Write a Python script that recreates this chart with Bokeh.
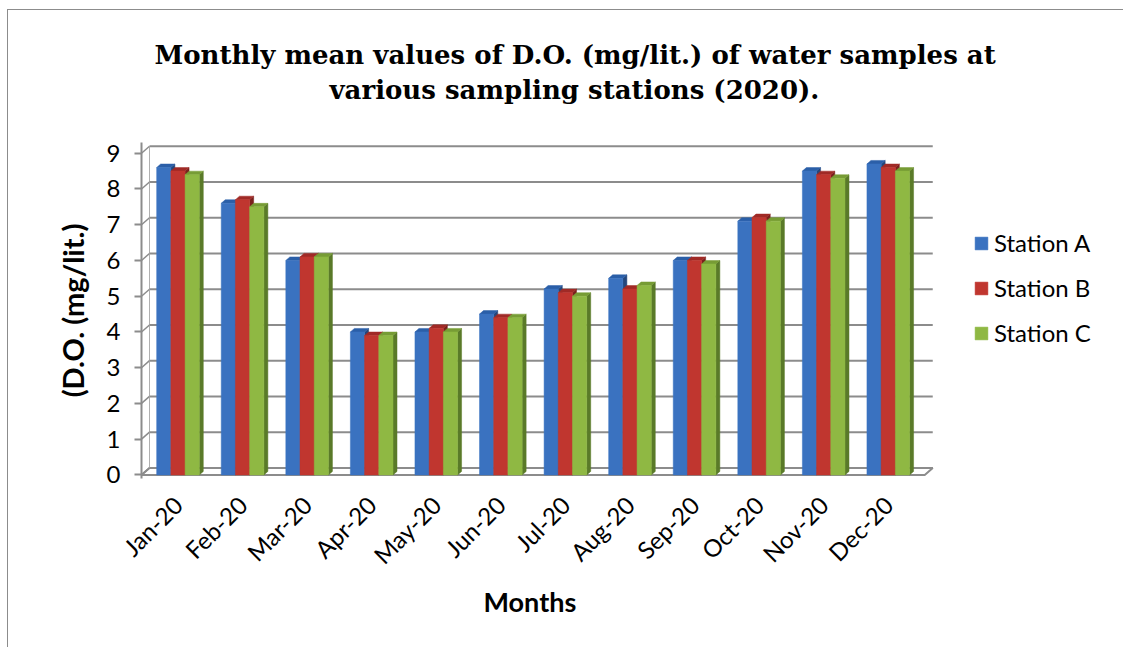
import numpy as np
from bokeh.plotting import figure
from bokeh.models import Range1d, FixedTicker, Title, Legend, LegendItem, ColumnDataSource
from bokeh.embed import file_html
from bokeh.resources import INLINE

# ---------------- data ----------------
months = ["Jan-20", "Feb-20", "Mar-20", "Apr-20", "May-20", "Jun-20",
          "Jul-20", "Aug-20", "Sep-20", "Oct-20", "Nov-20", "Dec-20"]
station_a = [8.6, 7.6, 6.0, 4.0, 4.0, 4.5, 5.2, 5.5, 6.0, 7.1, 8.5, 8.7]
station_b = [8.5, 7.7, 6.1, 3.9, 4.1, 4.4, 5.1, 5.2, 6.0, 7.2, 8.4, 8.6]
station_c = [8.4, 7.5, 6.1, 3.9, 4.0, 4.4, 5.0, 5.3, 5.9, 7.1, 8.3, 8.5]
series_names = ["Station A", "Station B", "Station C"]
y_ticks = [0, 1, 2, 3, 4, 5, 6, 7, 8, 9]

title_lines = ["Monthly mean values of D.O. (mg/lit.) of water samples at",
               "various sampling stations (2020)."]
x_title = "Months"
y_title = "(D.O. (mg/lit.)"

# ---------------- styling ----------------
front_colors = ["#3a72c0", "#c0362f", "#8fb843"]
top_colors = ["#2b5fa8", "#a02a26", "#779c35"]
side_colors = ["#24477c", "#7a201d", "#5a7a29"]
offsets = [-0.22, 0.0, 0.22]
BAR_W = 0.22
DXB, DYB = 0.062, 0.098      # bar depth (oblique projection)
DXW, DYW = 0.124, 0.196      # wall depth
X_LEFT, X_RIGHT = -0.065, 12.065
GRID = "#8c8c8c"
SANS = "Lato"

p = figure(width=1116, height=638,
           x_range=Range1d(-0.065, 14.787), y_range=Range1d(-0.1, 9.3),
           output_backend="svg", toolbar_location=None,
           min_border_left=133, min_border_right=24,
           min_border_top=132, min_border_bottom=170)
p.styles = {"margin-left": "7px", "margin-top": "9px",
            "border-top": "1px solid #8c8c8c", "border-left": "1px solid #8c8c8c"}
p.outline_line_color = None
p.xgrid.visible = False
p.ygrid.visible = False

# floor
p.patch([X_LEFT, X_RIGHT, X_RIGHT + DXW, X_LEFT + DXW], [0, 0, DYW, DYW],
        fill_color="white", line_color=GRID, line_width=2)
# left wall diagonals and back edge
yt = np.array(y_ticks, dtype=float)
p.segment(x0=[X_LEFT] * len(yt), y0=yt, x1=[X_LEFT + DXW] * len(yt), y1=yt + DYW,
          line_color=GRID, line_width=1.5)
p.segment(x0=[X_LEFT + DXW], y0=[DYW], x1=[X_LEFT + DXW], y1=[yt[-1] + DYW],
          line_color="#b0b0b0", line_width=1)
# back-wall gridlines
p.segment(x0=[X_LEFT + DXW] * len(yt), y0=yt + DYW, x1=[X_RIGHT + DXW] * len(yt), y1=yt + DYW,
          line_color=GRID, line_width=2)

pos = np.arange(len(months)) + 0.5
renderers = []
for k, vals in enumerate([station_a, station_b, station_c]):
    v = np.array(vals, dtype=float)
    xc = pos + offsets[k]
    xl = xc - BAR_W / 2
    xr = xc + BAR_W / 2
    side_xs = [[a, a + DXB, a + DXB, a] for a in xr]
    side_ys = [[0, DYB, h + DYB, h] for h in v]
    p.patches(side_xs, side_ys, fill_color=side_colors[k], line_color=side_colors[k], line_width=0.5)
    top_xs = [[a, a + DXB, b + DXB, b] for a, b in zip(xl, xr)]
    top_ys = [[h, h + DYB, h + DYB, h] for h in v]
    p.patches(top_xs, top_ys, fill_color=top_colors[k], line_color=top_colors[k], line_width=0.5)
    src = ColumnDataSource(dict(x=xc, top=v))
    r = p.vbar(x="x", top="top", bottom=0, width=BAR_W, source=src,
               fill_color=front_colors[k], line_color=front_colors[k], line_width=0.5)
    renderers.append(r)

# axes
p.xaxis.ticker = FixedTicker(ticks=list(pos))
p.xaxis.major_label_overrides = {float(x): m for x, m in zip(pos, months)}
p.xaxis.major_label_orientation = np.pi / 4
p.xaxis.axis_line_color = None
p.xaxis.major_tick_line_color = None
p.xaxis.minor_tick_line_color = None
p.xaxis.major_label_standoff = 16
p.xaxis.major_label_text_font = SANS
p.xaxis.major_label_text_font_size = "24px"
p.xaxis.major_label_text_color = "black"

p.yaxis.ticker = FixedTicker(ticks=y_ticks)
p.yaxis.axis_line_color = GRID
p.yaxis.axis_line_width = 2
p.yaxis.major_tick_line_color = GRID
p.yaxis.major_tick_line_width = 2
p.yaxis.major_tick_out = 7
p.yaxis.major_tick_in = 0
p.yaxis.minor_tick_line_color = None
p.yaxis.major_label_standoff = 14
p.yaxis.major_label_text_font = SANS
p.yaxis.major_label_text_font_size = "24px"
p.yaxis.major_label_text_color = "black"
p.yaxis.axis_label = y_title
p.yaxis.axis_label_text_font = SANS
p.yaxis.axis_label_text_font_style = "bold"
p.yaxis.axis_label_text_font_size = "29px"
p.yaxis.axis_label_text_color = "black"
p.yaxis.axis_label_standoff = 14

# x-axis title placed under the tick labels, centred under the bars
p.add_layout(Title(text=x_title, align="left", offset=342, standoff=0,
                   text_font=SANS, text_font_style="bold",
                   text_font_size="27px", text_color="black"), "below")

# chart title: spacer, then two lines (added nearest-first)
p.add_layout(Title(text=" ", align="left", standoff=22, text_font_size="10px"), "above")
for text, off, so in [(title_lines[1], 188, 6), (title_lines[0], 13, 0)]:
    p.add_layout(Title(text=text, align="left", offset=off, standoff=so,
                       text_font="DejaVu Serif", text_font_style="bold",
                       text_font_size="26px", text_color="black"), "above")

legend = Legend(items=[LegendItem(label=n, renderers=[r]) for n, r in zip(series_names, renderers)],
                location=(832, 131), orientation="vertical",
                glyph_width=16, glyph_height=16, label_height=24, label_standoff=5,
                spacing=16, padding=0, margin=0, border_line_color=None,
                background_fill_alpha=0, label_text_font=SANS,
                label_text_font_size="24px", label_text_color="black")
p.add_layout(legend)

open("out.html", "w").write(file_html(p, INLINE))
